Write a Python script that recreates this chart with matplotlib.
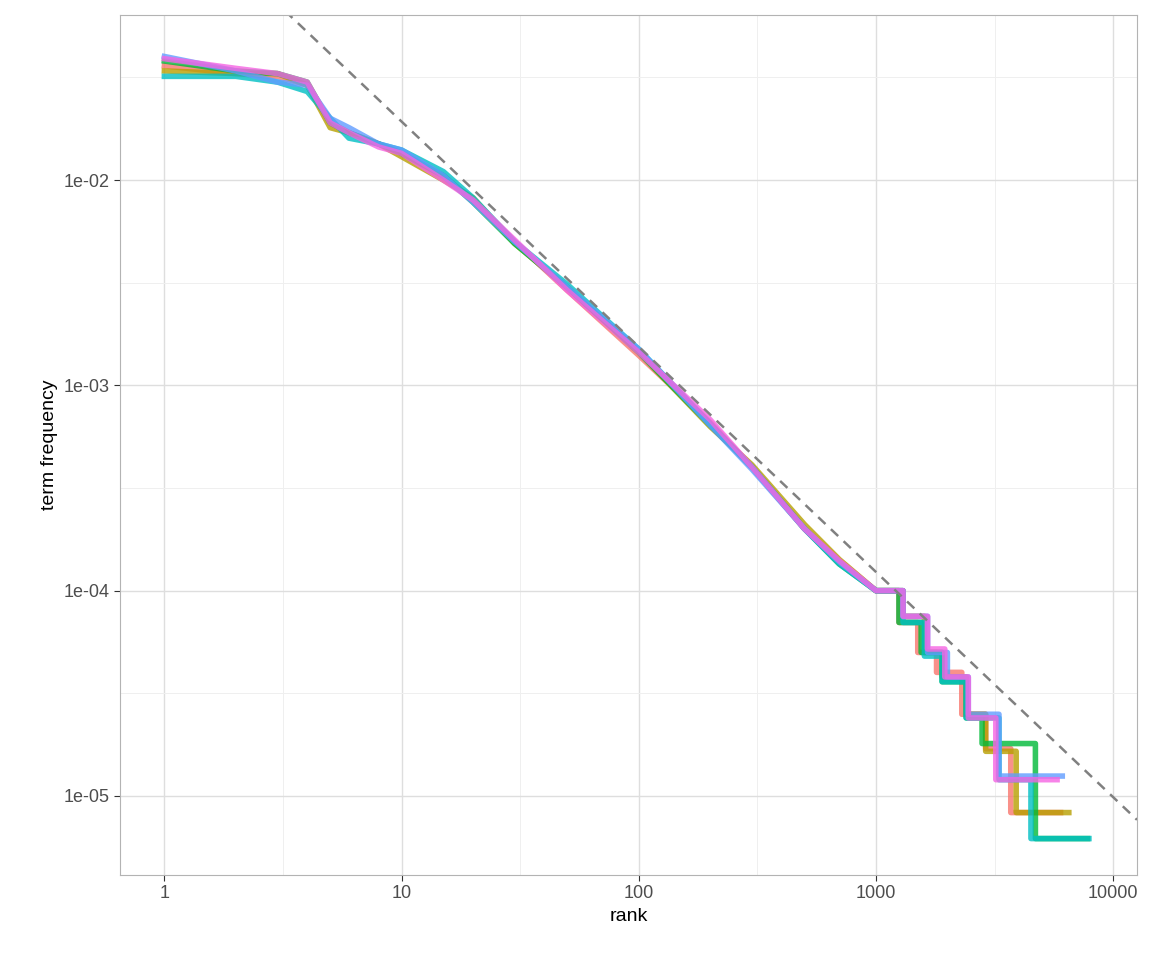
import matplotlib.pyplot as plt
import numpy as np

plt.rcParams['font.family'] = ['Liberation Sans', 'DejaVu Sans']

# ggplot hue palette, 6 books
colors = ['#F8766D', '#B79F00', '#00BA38', '#00BFC4', '#619CFF', '#F564E3']

head_ranks = [1, 2, 3, 4, 5, 6, 8, 10, 15, 20, 30, 50, 100, 200, 300, 500, 700, 1000]
head_freq = [
    [0.036, 0.033, 0.032, 0.029, 0.019, 0.017, 0.015, 0.0135, 0.0105, 0.0080, 0.0050, 0.0029, 0.00140, 0.00066, 0.00040, 0.00020, 0.000140, 0.000100],
    [0.034, 0.033, 0.033, 0.029, 0.018, 0.017, 0.015, 0.0130, 0.0100, 0.0082, 0.0049, 0.0030, 0.00145, 0.00063, 0.00041, 0.00021, 0.000142, 0.000098],
    [0.038, 0.034, 0.033, 0.030, 0.019, 0.017, 0.015, 0.0135, 0.0105, 0.0078, 0.0049, 0.0030, 0.00145, 0.00064, 0.00040, 0.00020, 0.000135, 0.000095],
    [0.032, 0.032, 0.030, 0.027, 0.020, 0.016, 0.015, 0.0140, 0.0110, 0.0082, 0.0050, 0.0031, 0.00150, 0.00065, 0.00040, 0.00020, 0.000135, 0.000095],
    [0.040, 0.034, 0.030, 0.029, 0.020, 0.018, 0.015, 0.0140, 0.0105, 0.0078, 0.0050, 0.0030, 0.00150, 0.00064, 0.00039, 0.00020, 0.000138, 0.000097],
    [0.039, 0.035, 0.033, 0.030, 0.019, 0.017, 0.0145, 0.0135, 0.0100, 0.0080, 0.0051, 0.0029, 0.00145, 0.00068, 0.00040, 0.00020, 0.000140, 0.000100],
]

# tail steps: rank where a level starts, level value; last entry is the end rank
tail_ranks = [
    [1000, 1250, 1500, 1800, 2300, 2900, 3700, 6000],
    [1000, 1300, 1600, 1900, 2400, 2900, 3900, 6500],
    [1000, 1250, 1550, 1900, 2400, 2800, 4700, 7800],
    [1000, 1300, 1600, 1900, 2400, 3300, 4500, 7900],
    [1000, 1300, 1650, 2000, 2450, 3300, 6100],
    [1000, 1300, 1650, 1950, 2450, 3200, 5800],
]
tail_freq = [
    [1.0e-4, 7.0e-5, 5.0e-5, 4.0e-5, 2.5e-5, 1.7e-5, 8.3e-6],
    [1.0e-4, 7.5e-5, 5.0e-5, 3.8e-5, 2.5e-5, 1.65e-5, 8.3e-6],
    [1.0e-4, 7.0e-5, 5.0e-5, 3.6e-5, 2.4e-5, 1.8e-5, 6.2e-6],
    [1.0e-4, 7.0e-5, 4.8e-5, 3.6e-5, 2.4e-5, 1.2e-5, 6.2e-6],
    [1.0e-4, 7.5e-5, 5.0e-5, 3.8e-5, 2.5e-5, 1.25e-5],
    [1.0e-4, 7.5e-5, 5.2e-5, 3.8e-5, 2.4e-5, 1.2e-5],
]

# fitted reference line: log10(tf) = intercept + slope * log10(rank)
intercept = -0.618
slope = -1.097

fig = plt.figure(figsize=(11.52, 9.6), dpi=100)
ax = fig.add_axes([120/1152, 85/960, 1017/1152, 860/960])

for c, hf, tr, tf in zip(colors, head_freq, tail_ranks, tail_freq):
    x = list(head_ranks[:-1])
    y = list(hf[:-1])
    for i in range(len(tf)):
        x += [tr[i], tr[i + 1]]
        y += [tf[i], tf[i]]
    ax.plot(x, y, color=c, lw=4, alpha=0.8, solid_joinstyle='round')

xl = np.array([0.65, 12600])
ax.plot(xl, 10 ** (intercept + slope * np.log10(xl)), color='grey', ls=(0, (4, 3)), lw=1.8)

ax.set_xscale('log')
ax.set_yscale('log')

ax.set_xticks([1, 10, 100, 1000, 10000])
ax.set_xticklabels(['1', '10', '100', '1000', '10000'])
ax.set_xticks([10 ** (k + 0.5) for k in range(0, 4)], minor=True)
ax.set_yticks([1e-5, 1e-4, 1e-3, 1e-2])
ax.set_yticklabels(['1e-05', '1e-04', '1e-03', '1e-02'])
ax.set_yticks([10 ** (k + 0.5) for k in range(-6, -1)], minor=True)
ax.set_xlim(0.65, 12600)
ax.set_ylim(10 ** -5.385, 10 ** -1.196)
ax.tick_params(which='minor', length=0)
ax.tick_params(which='major', length=4, color='#333333', labelsize=13, labelcolor='#4d4d4d')
ax.grid(which='major', color='#dedede', lw=1)
ax.grid(which='minor', color='#efefef', lw=0.7)
ax.set_axisbelow(True)
for s in ax.spines.values():
    s.set_color('#b3b3b3')

ax.set_xlabel('rank', fontsize=14)
ax.set_ylabel('term frequency', fontsize=14)

fig.savefig('out.png', dpi=100)
